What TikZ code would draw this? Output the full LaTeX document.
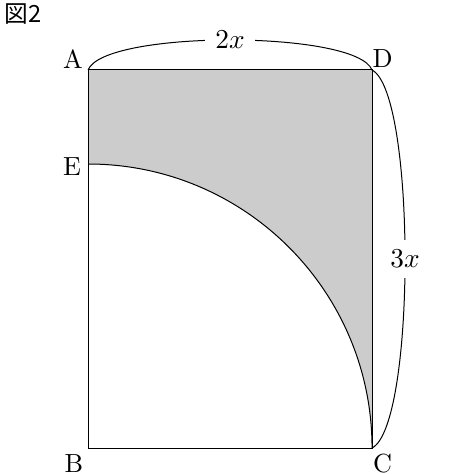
\documentclass[tikz,border=0pt]{standalone}
\usepackage{fontspec}
\newfontfamily\jpfont{Noto Sans CJK JP}
\begin{document}
\begin{tikzpicture}[x=2cm,y=2cm,line width=0.4pt,
    pt/.style={font=\fontsize{10.5}{12}\selectfont}]
    \useasboundingbox (-0.620,-0.183) rectangle (2.634,3.155);

    \coordinate (B) at (0,0);
    \coordinate (C) at (2,0);
    \coordinate (D) at (2,2.662);
    \coordinate (A) at (0,2.662);
    \coordinate (E) at (0,2);

    % shaded part
    \fill[gray!40] (A) -- (D) -- (C) arc[start angle=0, end angle=90, radius=2] -- cycle;
    \draw (A) -- (D) -- (C) -- (B) -- cycle;
    \draw (E) arc[start angle=90, end angle=0, radius=2];

    \draw (A) .. controls (0.11,2.944) and (1.89,2.944) .. node[pt, fill=white, inner sep=4pt] (lx) {$2x$} (D);
    \draw (D) .. controls (2.31,2.50) and (2.31,0.16) .. node[pt, fill=white, inner sep=4pt] (ly) {$3x$} (C);

    \node[pt] (nA) at (-0.106,2.740) {A};
    \node[pt] (nD) at (2.075,2.740) {D};
    \node[pt] (nE) at (-0.113,1.979) {E};
    \node[pt] (nB) at (-0.099,-0.108) {B};
    \node[pt] (nC) at (2.075,-0.108) {C};
    \node[font=\fontsize{9.5}{11}\selectfont, anchor=west, inner sep=0pt] (fig) at (-0.590,3.055) {\jpfont 図2};
\end{tikzpicture}
\end{document}
